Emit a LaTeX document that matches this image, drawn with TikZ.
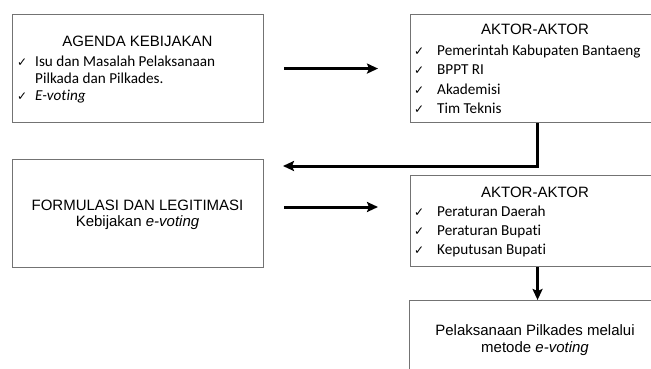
\documentclass[tikz,border=0pt]{standalone}
\usepackage{fontspec}
\setmainfont{Liberation Sans}
\newfontfamily\calfont[Ligatures=NoCommon]{Carlito}
\newfontfamily\symfont{DejaVu Sans}
\usetikzlibrary{arrows.meta}
\newcommand\ck[1][18pt]{\makebox[#1][l]{\symfont\fontsize{12}{12}\selectfont ✓}}
\tikzset{
  box/.style={draw=black!55, line width=1.1pt, rectangle, inner sep=0pt, anchor=north west},
  head/.style={font=\fontsize{15}{17}\selectfont, inner sep=0pt, anchor=base},
  item/.style={font=\calfont\fontsize{15.2}{17}\selectfont, inner sep=0pt, anchor=base west},
  arr/.style={line width=3pt, -{Stealth[length=11pt,width=10pt,inset=2pt]}}
}
\begin{document}
\begin{tikzpicture}[x=1pt,y=-1pt]
\useasboundingbox (0,0) rectangle (651,369);
\clip (0,0) rectangle (651,369);
% boxes
\node[box, minimum width=251pt, minimum height=108pt] (agenda) at (12,14) {};
\node[box, minimum width=254pt, minimum height=108pt] (aktor1) at (410,14) {};
\node[box, minimum width=251pt, minimum height=108pt] (formulasi) at (12,159) {};
\node[box, minimum width=254pt, minimum height=91pt] (aktor2) at (410,175) {};
\node[box, minimum width=256pt, minimum height=95pt] (pelaksanaan) at (409,300) {};
% box 1 text
\node[head] (agendaH) at (137.5,47) {AGENDA KEBIJAKAN};
\node[item] (agendaA) at (17,66.7) {\ck Isu dan Masalah Pelaksanaan};
\node[item] (agendaB) at (17,83.3) {\hspace{18pt}Pilkada dan Pilkades.};
\node[item] (agendaC) at (17,100) {\ck\textit{E-voting}};
% box 2 text
\node[head] (aktor1H) at (535,35) {AKTOR-AKTOR};
\node[item] (aktor1A) at (414,56) {\ck[23pt]Pemerintah Kabupaten Bantaeng};
\node[item] (aktor1B) at (414,75) {\ck[23pt]BPPT RI};
\node[item] (aktor1C) at (414,94.5) {\ck[23pt]Akademisi};
\node[item] (aktor1D) at (414,113.5) {\ck[23pt]Tim Teknis};
% box 3 text
\node[head] (formH) at (137.5,210) {FORMULASI DAN LEGITIMASI};
\node[head] (formB) at (137.5,226) {Kebijakan \textit{e-voting}};
% box 4 text
\node[head] (aktor2H) at (535,197) {AKTOR-AKTOR};
\node[item] (aktor2A) at (414,216) {\ck[23pt]Peraturan Daerah};
\node[item] (aktor2B) at (414,235) {\ck[23pt]Peraturan Bupati};
\node[item] (aktor2C) at (414,254) {\ck[23pt]Keputusan Bupati};
% box 5 text
\node[head] (pelA) at (535,335) {Pelaksanaan Pilkades melalui};
\node[head] (pelB) at (535,352) {metode \textit{e-voting}};
% connectors
\draw[arr, shorten <=20pt, shorten >=32pt] (agenda.east) -- (aktor1.west);
\coordinate (turn) at (283,166);
\draw[arr] (aktor1.south) |- (turn);
\coordinate (yrow) at (0,207);
\path ([xshift=20pt]formulasi.east) coordinate (f1);
\path ([xshift=-32pt]aktor2.west) coordinate (f2);
\draw[arr] (f1 |- yrow) -- (f2 |- yrow);
\draw[arr] (aktor2.south) -- (pelaksanaan.north);
\end{tikzpicture}
\end{document}
